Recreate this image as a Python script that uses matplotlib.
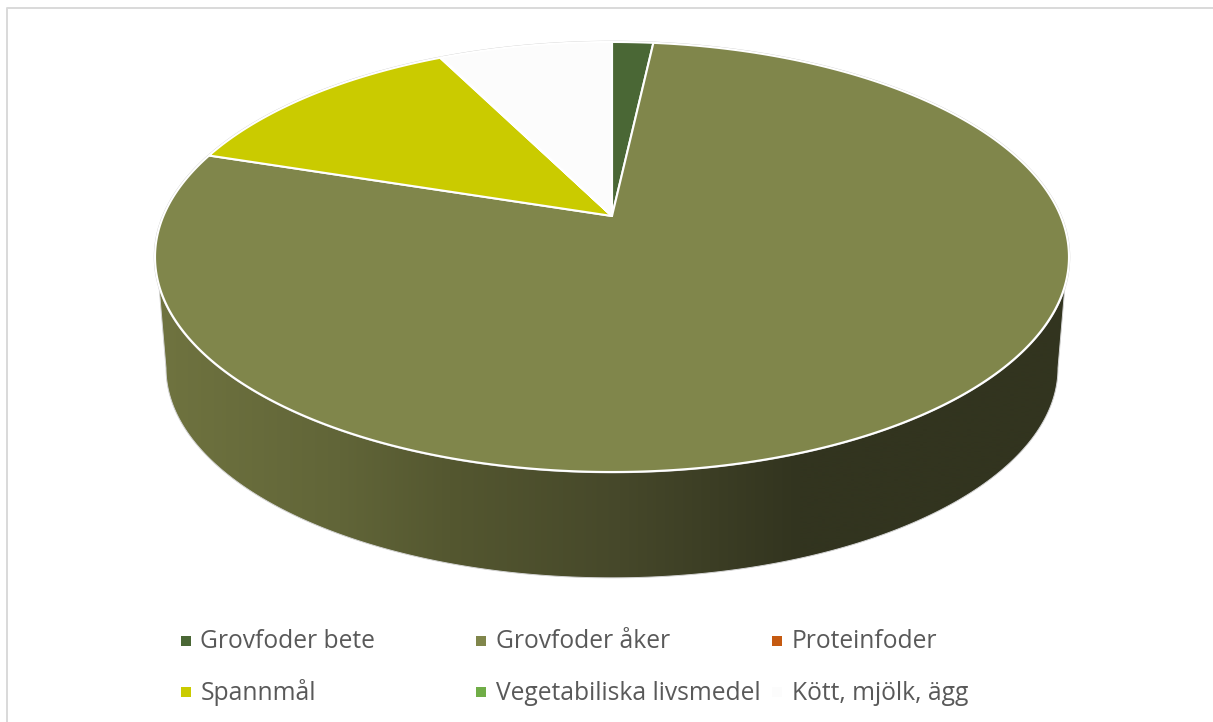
#!/usr/bin/env python3
"""3D-liknande cirkeldiagram over foderslag, ritat i pixelkoordinater"""

import numpy as np
import matplotlib
matplotlib.use('Agg')
import matplotlib.pyplot as plt
from matplotlib.patches import Polygon, Rectangle

# andel i procent, medurs fran kl 12
categories = ['Grovfoder bete', 'Grovfoder åker', 'Proteinfoder',
              'Spannmål', 'Vegetabiliska livsmedel', 'Kött, mjölk, ägg']
values = [1.75, 78.25, 0.0, 12.6, 0.05, 7.35]
colors = ['#4A6735', '#80864B', '#C55A11', '#CACB00', '#70AD47', '#FCFCFC']

# perspektiv pa cirkelskivan
CX, CY = 612.0, 216.0
RX, RY = 448.6, 207.2
PERSP = 0.1906
BOTTOM_SCALE = 0.976
BOTTOM_CY = 328.0

# sidans ljusgradient (x i pixlar -> rgb)
grad_x = [150, 340, 450, 620, 800, 1080]
grad_rgb = [(112, 116, 64), (97, 101, 56), (84, 87, 48),
            (70, 72, 42), (50, 52, 31), (50, 52, 31)]


def project(theta, cy=CY, scale=1.0):
    """theta i radianer medurs fran toppen -> pixelkoordinater"""
    u = np.sin(theta)
    v = np.cos(theta)
    s = scale / (1 + PERSP * v)
    return np.column_stack([CX + RX * u * s, cy - RY * v * s])


def wedge_points(start, end):
    theta = np.linspace(start, end, max(int((end - start) * 120), 2))
    return np.vstack([[CX, CY], project(theta)])


fig = plt.figure(figsize=(12.13, 7.22), dpi=100)
ax = fig.add_axes([0, 0, 1, 1])

# ram, bara vanster och overkant syns
ax.plot([6.5, 6.5, 1213], [722, 7.5, 7.5], color='#D9D9D9', lw=1.4, zorder=1)

# sidovagg
theta = np.linspace(0, 2 * np.pi, 1441)
top = project(theta)
bottom = project(theta, BOTTOM_CY, BOTTOM_SCALE)
top_front = top[top[:, 1] >= 285]
bottom_front = bottom[bottom[:, 1] >= 368]
top_front = top_front[np.argsort(top_front[:, 0])]
bottom_front = bottom_front[np.argsort(bottom_front[:, 0])[::-1]]
wall = np.vstack([top_front, bottom_front])

xs = np.arange(150, 1081)
gradient = np.stack([np.interp(xs, grad_x, [c[i] for c in grad_rgb]) for i in range(3)],
                    axis=-1)[np.newaxis, :, :] / 255
img = ax.imshow(gradient, extent=[150, 1080, 590, 270], aspect='auto',
                interpolation='bilinear', zorder=2)
wall_patch = Polygon(wall, closed=True, fc='none', ec='#D4D4D4', lw=0.7, zorder=3)
ax.add_patch(wall_patch)
img.set_clip_path(wall_patch)

# tunn gra kontur runt skivan
ax.add_patch(Polygon(top, closed=True, fc='none', ec='#C8C8C8', lw=1.8, zorder=3))

# skivans sektorer
cum = np.cumsum([0.0] + values)
for i, val in enumerate(values):
    if val <= 0:
        continue
    a0 = cum[i] / cum[-1] * 2 * np.pi
    a1 = cum[i + 1] / cum[-1] * 2 * np.pi
    ax.add_patch(Polygon(wedge_points(a0, a1), closed=True, fc=colors[i],
                         ec='white', lw=1.5, joinstyle='round', zorder=4))

# legend
legend_x = [181, 476, 772]
legend_y = [641, 692]
for i, name in enumerate(categories):
    x = legend_x[i % 3]
    y = legend_y[i // 3]
    ax.add_patch(Rectangle((x, y - 5), 10, 10, fc=colors[i], ec='none', zorder=5))
    ax.text(x + 19.5, y + 1, name, fontsize=17.7, family='Open Sans', color='#595959',
            va='center', ha='left', zorder=5)

ax.set_xlim(0, 1213)
ax.set_ylim(722, 0)
ax.axis('off')

fig.savefig('out.png', dpi=100, facecolor='white')
